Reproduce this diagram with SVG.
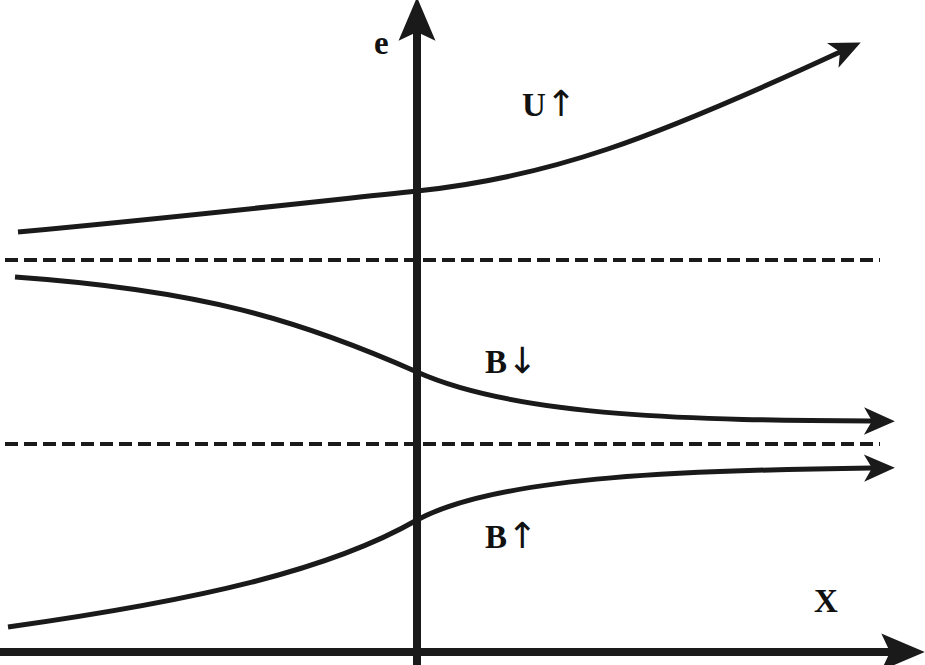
<svg xmlns="http://www.w3.org/2000/svg" width="925" height="665" viewBox="0 0 925 665">
<style>
.curve{fill:none;stroke:#1a1a1a;stroke-width:5}
.axis{fill:none;stroke:#1a1a1a;stroke-width:8}
.dash{fill:none;stroke:#1a1a1a;stroke-width:4;stroke-dasharray:13 6}
.lbl{font-family:"Liberation Serif","DejaVu Serif",serif;font-weight:bold;font-size:33px;fill:#111}
.arr{font-family:"DejaVu Sans",sans-serif;font-weight:normal;font-size:36px}
</style>
<defs>
<marker id="ah" markerUnits="userSpaceOnUse" markerWidth="40" markerHeight="40" viewBox="-30 -15 35 30" refX="-17" refY="0" orient="auto">
<path d="M3,0 L-24,-12 L-17,0 L-24,12 Z" fill="#1a1a1a"/>
</marker>
<marker id="axh" markerUnits="userSpaceOnUse" markerWidth="50" markerHeight="50" viewBox="-42 -20 46 40" refX="-30" refY="0" orient="auto">
<path d="M2,0 L-38,-17 L-30,0 L-38,17 Z" fill="#1a1a1a"/>
</marker>
</defs>
<rect width="925" height="665" fill="#fff"/>
<g id="dashed">
<line class="dash" x1="5" y1="260" x2="880" y2="260"/>
<line class="dash" x1="5" y1="444" x2="880" y2="444"/>
</g>
<g id="connectors">
<path class="curve" d="M18,232 C200,215 330,200 417,191 C550,177 650,140 840,52" marker-end="url(#ah)"/>
<path class="curve" d="M15,277 C200,290 300,320 417,372 C520,418 700,420 872,421" marker-end="url(#ah)"/>
<path class="curve" d="M8,627 C200,600 330,570 417,520 C500,475 700,470 872,468" marker-end="url(#ah)"/>
</g>
<g id="axes">
<line class="axis" x1="417" y1="665" x2="417" y2="32" marker-end="url(#axh)"/>
<line class="axis" x1="0" y1="652" x2="890" y2="652" marker-end="url(#axh)"/>
</g>
<g id="labels">
<text class="lbl" x="374" y="54">e</text>
<text class="lbl" x="522" y="116">U<tspan class="arr">↑</tspan></text>
<text class="lbl" x="485" y="373">B<tspan class="arr">↓</tspan></text>
<text class="lbl" x="485" y="548">B<tspan class="arr">↑</tspan></text>
<text class="lbl" x="814" y="612">X</text>
</g>
</svg>
